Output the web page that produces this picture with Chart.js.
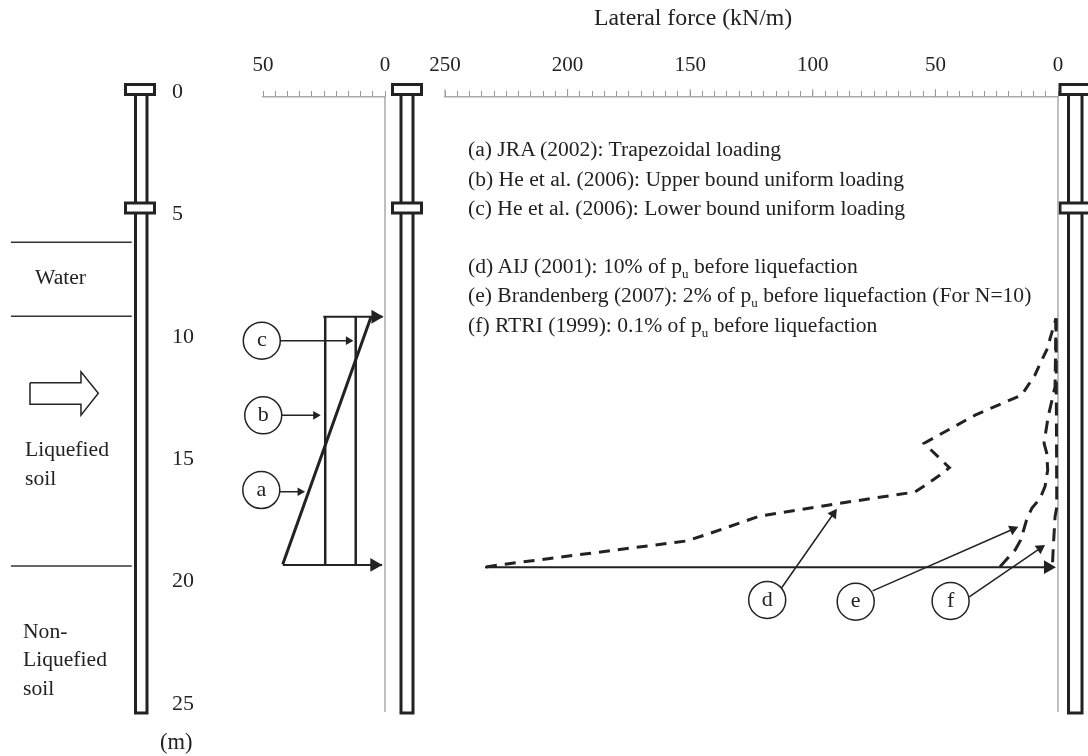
<!DOCTYPE html>
<html lang="en">
<head>
  <meta charset="UTF-8">
  <title>Lateral force on pile</title>
  <script src="https://cdn.jsdelivr.net/npm/chart.js"></script>
  <style>
    body { margin: 0; background: #fff; }
    #page { position: relative; width: 1088px; height: 756px; overflow: hidden; }
    canvas { position: absolute; left: 0; top: 0; }
    .t {
      position: absolute;
      font-family: 'Liberation Serif', serif;
      font-size: 21.6px;
      color: #222;
      white-space: nowrap;
      transform: translateY(-50%);
    }
    .t sub { font-size: 13px; line-height: 0; }
  </style>
</head>
<body>
  <div id="page">
    <canvas id="leftChart" width="1088" height="756"></canvas>
    <canvas id="rightChart" width="1088" height="756"></canvas>
    <div class="t" style="left:594px;top:17px;font-size:23.8px">Lateral force (kN/m)</div>
    <div class="t" style="left:468px;top:149px">(a) JRA (2002): Trapezoidal loading</div>
    <div class="t" style="left:468px;top:179px">(b) He et al. (2006): Upper bound uniform loading</div>
    <div class="t" style="left:468px;top:208px">(c) He et al. (2006): Lower bound uniform loading</div>
    <div class="t" style="left:468px;top:266px">(d) AIJ (2001): 10% of p<sub>u</sub> before liquefaction</div>
    <div class="t" style="left:468px;top:295px">(e) Brandenberg (2007): 2% of p<sub>u</sub> before liquefaction (For N=10)</div>
    <div class="t" style="left:468px;top:325px">(f) RTRI (1999): 0.1% of p<sub>u</sub> before liquefaction</div>
    <div class="t" style="left:35px;top:277px">Water</div>
    <div class="t" style="left:25px;top:449px">Liquefied</div>
    <div class="t" style="left:25px;top:478px">soil</div>
    <div class="t" style="left:23px;top:631px">Non-</div>
    <div class="t" style="left:23px;top:659px">Liquefied</div>
    <div class="t" style="left:23px;top:688px">soil</div>
    <div class="t" style="left:160px;top:742px;font-size:22.5px">(m)</div>
  </div>

  <script>
    const INK = '#222';
    const GREY = '#aaaab0';

    // depth axis, metres
    const depthTicks = [0, 5, 10, 15, 20, 25];
    const depthTop = 0.245;
    const depthBottom = 25;

    // force axes, kN/m
    const leftForceMax = 50;
    const rightForceMax = 250;
    const rightMajorTicks = [250, 200, 150, 100, 50];

    // all pairs below are [force kN/m, depth m]
    const loadA = [[41.9, 19.33], [5.7, 9.22]];
    const loadB = [[24.5, 9.22], [24.5, 19.36]];
    const loadC = [[12.0, 9.22], [12.0, 19.36]];
    const loadTop = [[25.3, 9.22], [1, 9.22]];
    const loadBottom = [[41.9, 19.36], [1.2, 19.36]];

    const curveD = [[233.3, 19.44], [224.8, 19.32], [151.4, 18.38], [144.0, 18.14], [121.5, 17.36], [88.9, 16.84],
      [58.3, 16.38], [54.9, 16.16], [48.1, 15.69], [44.3, 15.39], [54.6, 14.39], [33.8, 13.24], [14.8, 12.42],
      [9.4, 11.60], [6.6, 10.99], [4.6, 10.58], [0.8, 9.29]];
    const curveE = [[23.65, 19.43], [17.5, 18.75], [15.2, 18.34], [12.8, 17.52], [10.7, 17.05], [7.3, 16.64],
      [5.3, 16.16], [4.2, 15.48], [4.6, 14.79], [5.7, 14.39], [4.0, 13.30], [1.2, 12.08], [0.8, 9.29]];
    const curveF = [[0.8, 9.29], [0.5, 17.0], [1.2, 17.39], [1.9, 18.6], [2.3, 19.43]];
    const baseLine = [[233.7, 19.45], [2, 19.45]];

    // callout circles
    const leftLetters = ['a', 'b', 'c'];
    const leftCircles = [[50.7, 16.3], [49.9, 13.25], [50.5, 10.2]];
    const leftLeaders = [
      [[43.0, 16.37], [33.5, 16.37]],
      [[42.2, 13.25], [27, 13.25]],
      [[42.7, 10.2], [13.5, 10.2]]
    ];
    const leftTips = [[34.8, 16.37], [28.4, 13.25], [15.0, 10.2]];
    const leftBigTips = [[3.93, 9.22], [4.38, 19.36]];

    const rightLetters = ['d', 'e', 'f'];
    const rightCircles = [[118.6, 20.79], [82.5, 20.86], [43.8, 20.83]];
    const rightLeaders = [
      [[112.7, 20.29], [91.6, 17.27]],
      [[75.6, 20.42], [18.4, 17.90]],
      [[36.2, 20.66], [7.3, 18.68]]
    ];
    const rightTips = [[91.6, 17.27], [18.4, 17.90], [7.3, 18.68]];
    const rightTipAngles = [35, 66, 56];
    const rightBigTips = [[4.1, 19.45]];

    // schematic parts, drawn on the same axes
    const soilLevels = [6.18, 9.2, 19.4];
    const soilLineFrom = 153.3;
    const soilLineTo = 103.8;
    const flowArrow = [[145.5, 11.92], [124.6, 11.92], [124.6, 11.47], [117.5, 12.35], [124.6, 13.24], [124.6, 12.80], [145.5, 12.80], [145.5, 11.92]];
    const capSpans = [[-0.27, 0.14], [4.58, 4.98]];
    const pileEnd = 25.41;
    const pileSoil = { walls: [102.25, 97.54], cap: [106.35, 94.47] };
    const pileLeft = { walls: [-6.56, -11.48], cap: [-3.07, -14.96] };
    const pileRight = { walls: [-4.28, -9.79], cap: [-0.82, -13.05] };
    const zeroLineEnd = 25.37;

    function pts(pairs) {
      return pairs.map(p => ({ x: p[0], y: p[1] }));
    }

    function line(pairs, width, color, dash) {
      return {
        data: pts(pairs),
        showLine: true,
        pointRadius: 0,
        borderColor: color || INK,
        borderWidth: width,
        borderDash: dash || [],
        borderJoinStyle: 'miter',
        clip: false
      };
    }

    function heads(pairs, radius, angles) {
      return {
        data: pts(pairs),
        pointStyle: 'triangle',
        pointRadius: radius,
        pointRotation: angles,
        pointBackgroundColor: INK,
        pointBorderWidth: 0,
        clip: false
      };
    }

    function circles(pairs, letters) {
      return {
        data: pts(pairs),
        letters: letters,
        pointRadius: 18.5,
        pointBackgroundColor: '#fff',
        pointBorderColor: INK,
        pointBorderWidth: 1.5,
        clip: false
      };
    }

    function pile(p) {
      const [a, b] = p.walls;
      const [c, d] = p.cap;
      const sets = [];
      capSpans.forEach(s => {
        sets.push(line([[c, s[0]], [d, s[0]], [d, s[1]], [c, s[1]], [c, s[0]], [d, s[0]]], 3));
      });
      sets.push(line([[a, capSpans[0][1]], [a, capSpans[1][0]]], 3));
      sets.push(line([[b, capSpans[0][1]], [b, capSpans[1][0]]], 3));
      sets.push(line([[a, capSpans[1][1]], [a, pileEnd], [b, pileEnd], [b, capSpans[1][1]]], 3));
      return sets;
    }

    const letterPlugin = {
      id: 'letters',
      afterDatasetsDraw(chart) {
        const ctx = chart.ctx;
        ctx.save();
        ctx.font = "22px 'Liberation Serif', serif";
        ctx.fillStyle = INK;
        ctx.textAlign = 'center';
        ctx.textBaseline = 'middle';
        chart.data.datasets.forEach((ds, i) => {
          if (!ds.letters) return;
          chart.getDatasetMeta(i).data.forEach((el, j) => {
            ctx.fillText(ds.letters[j], el.x, el.y);
          });
        });
        ctx.restore();
      }
    };

    function makeChart(id, datasets, forceMax, padLeft, padRight, showDepth) {
      return new Chart(document.getElementById(id), {
        type: 'scatter',
        data: { datasets: datasets },
        plugins: [letterPlugin],
        options: {
          responsive: false,
          animation: false,
          events: [],
          layout: { padding: { left: padLeft, right: padRight, top: 0, bottom: 53 } },
          plugins: { legend: { display: false }, tooltip: { enabled: false } },
          scales: {
            x: {
              position: 'top',
              reverse: true,
              bounds: 'data',
              // set here, not as min/max, so points past the axis ends are still drawn
              afterDataLimits: s => { s.min = 0; s.max = forceMax; },
              afterFit: s => { s.height = 97; },
              grid: { drawOnChartArea: false, tickLength: 6, color: '#999', tickColor: '#999', lineWidth: 1 },
              border: { color: '#aaa', width: 1.5 },
              ticks: {
                stepSize: 5,
                autoSkip: false,
                maxRotation: 0,
                padding: 13,
                color: INK,
                font: { family: "'Liberation Serif', serif", size: 21 },
                callback: v => (v % 50 === 0 ? String(v) : '')
              }
            },
            y: {
              display: showDepth,
              position: 'left',
              reverse: true,
              min: depthTop,
              max: depthBottom,
              afterBuildTicks: s => { s.ticks = depthTicks.map(v => ({ value: v })); },
              afterFit: s => { s.width = showDepth ? 91 : 0; },
              grid: { display: false },
              border: { display: false },
              ticks: {
                autoSkip: false,
                crossAlign: 'far',
                labelOffset: 1,
                color: INK,
                font: { family: "'Liberation Serif', serif", size: 22 }
              }
            }
          }
        }
      });
    }

    const leftSets = [
      circles(leftCircles, leftLetters),
      heads(leftTips, 5, 90),
      heads(leftBigTips, 8, 90),
      ...leftLeaders.map(l => line(l, 1.5)),
      line(loadA, 3),
      line(loadB, 2.5),
      line(loadC, 2.5),
      line(loadTop, 2),
      line(loadBottom, 2),
      line([[0, depthTop], [0, zeroLineEnd]], 1.5, GREY),
      ...soilLevels.map(d => line([[soilLineFrom, d], [soilLineTo, d]], 1.5, '#333')),
      line(flowArrow, 1.5),
      ...pile(pileSoil),
      ...pile(pileLeft)
    ];

    const rightSets = [
      circles(rightCircles, rightLetters),
      heads(rightTips, 6, rightTipAngles),
      heads(rightBigTips, 8, 90),
      ...rightLeaders.map(l => line(l, 1.5)),
      line(curveD, 3, INK, [11, 8]),
      line(curveE, 3, INK, [13, 8]),
      line(curveF, 3, INK, [13, 8]),
      line(baseLine, 2),
      line([[0, depthTop], [0, zeroLineEnd]], 1.5, GREY),
      ...rightMajorTicks.map(v => line([[v, depthTop], [v, -0.08]], 1, '#999')),
      ...pile(pileRight)
    ];

    makeChart('leftChart', leftSets, leftForceMax, 172, 703, true);
    makeChart('rightChart', rightSets, rightForceMax, 445, 30, false);
  </script>
</body>
</html>
